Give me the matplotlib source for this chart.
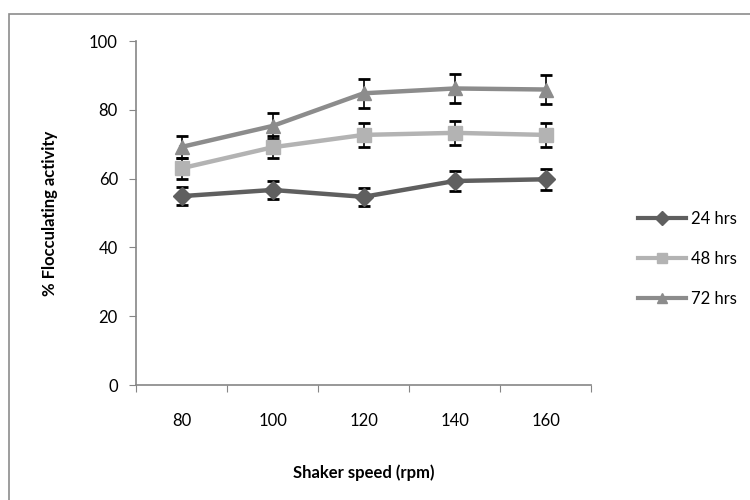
import matplotlib
matplotlib.use("Agg")
import matplotlib.pyplot as plt
from matplotlib.patches import Rectangle
import numpy as np

# shaker speed categories
speeds = ["80", "100", "120", "140", "160"]

# % flocculating activity
act_24 = [54.9, 56.7, 54.7, 59.3, 59.8]
err_24 = [2.7, 2.7, 2.7, 3.0, 3.0]
act_48 = [63.0, 69.1, 72.7, 73.3, 72.7]
err_48 = [3.0, 3.2, 3.5, 3.5, 3.5]
act_72 = [69.2, 75.3, 84.8, 86.2, 85.9]
err_72 = [3.3, 3.8, 4.2, 4.2, 4.1]

labels = ["24 hrs", "48 hrs", "72 hrs"]

plt.rcParams['font.family'] = ['Lato', 'DejaVu Sans']
fs = 12

fig = plt.figure(figsize=(7.5, 5), dpi=100)
ax = fig.add_axes([0.1813, 0.23, 0.607, 0.688])

# outer chart border
fig.patches.append(Rectangle((8.5 / 750, -0.1), 1.2, 1 - 13.5 / 500 + 0.1,
                             transform=fig.transFigure, fill=False,
                             edgecolor="#8c8c8c", linewidth=1.2))

x = np.arange(len(speeds))
series = [(act_24, err_24, "#5f5f5f", "D", 9),
          (act_48, err_48, "#b3b3b3", "s", 10),
          (act_72, err_72, "#8c8c8c", "^", 10)]

for (vals, errs, col, mk, ms), lab in zip(series, labels):
    ax.errorbar(x, vals, yerr=errs, fmt="none", ecolor="black",
                elinewidth=1.2, capsize=4, capthick=2, zorder=2)
    ax.plot(x, vals, color=col, linewidth=3.2, marker=mk,
            markersize=ms, markeredgecolor=col, zorder=3)

ax.set_xlim(-0.5, 4.5)
ax.set_ylim(0, 100)
ax.set_yticks(np.arange(0, 101, 20))
ax.set_xticks(np.arange(-0.5, 4.6, 1))
ax.set_xticklabels([])
ax.set_xticks(x, minor=True)
ax.set_xticklabels(speeds, minor=True, fontsize=fs)
ax.tick_params(axis="x", which="minor", length=0, pad=20)
ax.tick_params(axis="x", which="major", length=5, color="#868686",
               direction="out")
ax.tick_params(axis="y", length=5, color="#868686", direction="out",
               labelsize=fs, pad=8)

for s in ["top", "right"]:
    ax.spines[s].set_visible(False)
for s in ["left", "bottom"]:
    ax.spines[s].set_color("#868686")
    ax.spines[s].set_linewidth(1.2)

ax.set_ylabel("% Flocculating activity", fontsize=fs, fontweight="bold",
              labelpad=22)
ax.set_xlabel("Shaker speed (rpm)", fontsize=fs, fontweight="bold",
              labelpad=26)

# legend with smaller markers
leg_handles = []
for (vals, errs, col, mk, ms), lab in zip(series, labels):
    lh, = ax.plot([], [], color=col, linewidth=3, marker=mk,
                  markersize=7, markeredgecolor=col, label=lab)
    leg_handles.append(lh)
ax.legend(handles=leg_handles, loc="center left",
          bbox_to_anchor=(1.07, 0.366), frameon=False, fontsize=fs,
          handlelength=2.9, labelspacing=1.45, handletextpad=0.3)

fig.savefig("out.png", dpi=100)
